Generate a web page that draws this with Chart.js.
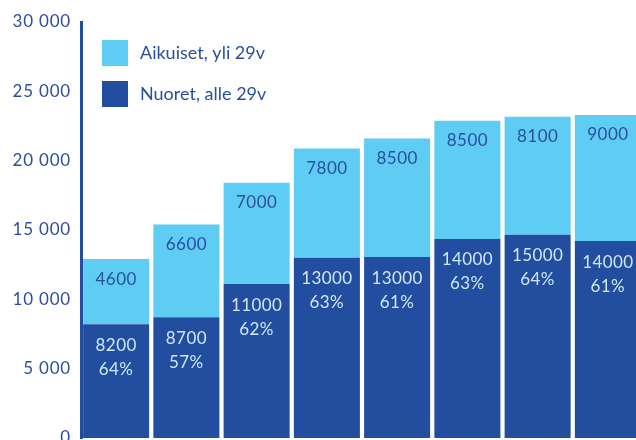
<!DOCTYPE html>
<html>
<head>
<meta charset="utf-8">
<script src="https://cdn.jsdelivr.net/npm/chart.js@4/dist/chart.umd.min.js"></script>
<style>
    html, body { margin: 0; padding: 0; background: #fff; }
    .frame { width: 636px; height: 440px; overflow: hidden; position: relative; }
    .chart-box { position: absolute; left: 0; top: 0; width: 643px; height: 460px; }
</style>
</head>
<body>
<div class="frame">
    <div class="chart-box"><canvas id="chart"></canvas></div>
</div>
<script>
// bar heights
const years = ['1', '2', '3', '4', '5', '6', '7', '8'];
const youth = [8200, 8700, 11100, 13000, 13050, 14350, 14650, 14200];
const adults = [4700, 6700, 7300, 7870, 8540, 8530, 8520, 9100];

// printed labels (rounded in the original)
const youthText = ['8200', '8700', '11000', '13000', '13000', '14000', '15000', '14000'];
const youthShare = ['64%', '57%', '62%', '63%', '61%', '63%', '64%', '61%'];
const adultText = ['4600', '6600', '7000', '7800', '8500', '8500', '8100', '9000'];

const yTicks = [0, 5000, 10000, 15000, 20000, 25000, 30000];

const DARK = '#234e9f';
const LIGHT = '#5fcdf3';
const TEXT = '#2b4f9e';
const FONT = 'Lato';

// the original font is a bit wider, so space the letters out a little
const spacing = {
    id: 'spacing',
    beforeDraw(chart) {
        chart.ctx.letterSpacing = '0.8px';
    }
};

// value labels inside the bar segments
const barLabels = {
    id: 'barLabels',
    afterDatasetsDraw(chart) {
        const ctx = chart.ctx;
        ctx.save();
        ctx.letterSpacing = '0.4px';
        ctx.textAlign = 'center';
        ctx.textBaseline = 'middle';
        ctx.font = '17px ' + FONT;
        chart.getDatasetMeta(0).data.forEach((bar, i) => {
            ctx.fillStyle = '#cfe8f8';
            ctx.fillText(youthText[i], bar.x, bar.y + 21);
            ctx.fillText(youthShare[i], bar.x, bar.y + 45);
        });
        chart.getDatasetMeta(1).data.forEach((bar, i) => {
            ctx.fillStyle = TEXT;
            ctx.fillText(adultText[i], bar.x, bar.y + 20);
        });
        ctx.restore();
    }
};

// legend drawn inside the plot, top left
const insideLegend = {
    id: 'insideLegend',
    afterDraw(chart) {
        const ctx = chart.ctx;
        const items = [chart.data.datasets[1], chart.data.datasets[0]];
        ctx.save();
        ctx.letterSpacing = '0px';
        ctx.font = '18px ' + FONT;
        ctx.textBaseline = 'middle';
        items.forEach((ds, i) => {
            const top = 40 + i * 41;
            ctx.fillStyle = ds.backgroundColor;
            ctx.fillRect(102, top, 26, 26);
            ctx.fillStyle = TEXT;
            ctx.fillText(ds.label, 140, top + 13);
        });
        ctx.restore();
    }
};

new Chart(document.getElementById('chart'), {
    type: 'bar',
    data: {
        labels: years,
        datasets: [
            { label: 'Nuoret, alle 29v', data: youth, backgroundColor: DARK },
            { label: 'Aikuiset, yli 29v', data: adults, backgroundColor: LIGHT }
        ]
    },
    options: {
        responsive: true,
        maintainAspectRatio: false,
        animation: false,
        layout: { padding: { top: 22, bottom: 22, left: 0, right: 0 } },
        datasets: { bar: { barPercentage: 0.94, categoryPercentage: 1 } },
        plugins: {
            legend: { display: false },
            tooltip: { enabled: false }
        },
        scales: {
            x: {
                stacked: true,
                display: false
            },
            y: {
                stacked: true,
                min: 0,
                max: 30000,
                afterBuildTicks: (scale) => {
                    scale.ticks = yTicks.map(v => ({ value: v }));
                },
                afterFit: (scale) => { scale.width = 81; },
                grid: { display: false, drawTicks: false },
                border: { display: true, color: DARK, width: 3 },
                ticks: {
                    padding: 10,
                    color: TEXT,
                    font: { family: FONT, size: 17 },
                    callback: (v) => String(v).replace(/\B(?=(\d{3})+(?!\d))/g, ' ')
                }
            }
        }
    },
    plugins: [spacing, barLabels, insideLegend]
});
</script>
</body>
</html>
